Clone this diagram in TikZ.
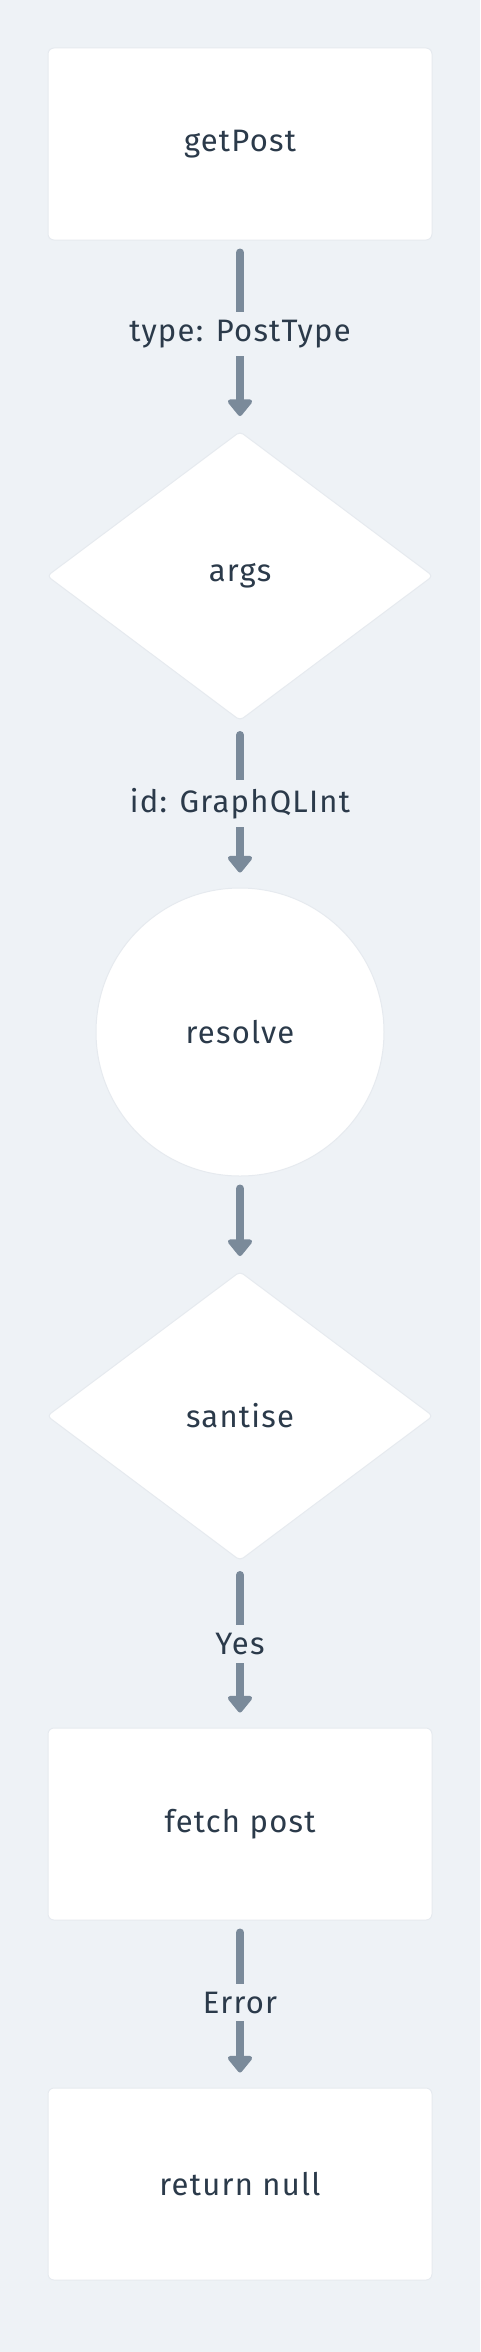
\documentclass[tikz,border=0pt]{standalone}
\usepackage{fontspec}
\setmainfont{Fira Sans}[LetterSpace=4]
\usetikzlibrary{shapes.geometric,arrows.meta}
\definecolor{bgc}{HTML}{EEF2F6}
\definecolor{edgec}{HTML}{E6EAEF}
\definecolor{arrc}{HTML}{7A8A9A}
\definecolor{txtc}{HTML}{2B3A4A}
\tikzset{
  shapebase/.style={fill=white, draw=edgec, line width=1pt, text=txtc, font=\fontsize{31}{36}\selectfont},
  boxnode/.style={shapebase, rectangle, rounded corners=6pt, minimum width=384pt, minimum height=192pt},
  decnode/.style={shapebase, diamond, minimum width=386pt, minimum height=289pt, inner sep=0pt, rounded corners=4pt},
  roundnode/.style={shapebase, circle, minimum size=288pt, inner sep=0pt},
  arr/.style={draw=arrc, line width=8pt, line cap=round, -{Triangle[width=28pt,length=18pt,round]}},
  lbl/.style={fill=bgc, text=txtc, font=\fontsize{31}{36}\selectfont, inner xsep=2pt, inner ysep=8pt}
}
\begin{document}
\begin{tikzpicture}[x=1pt,y=1pt]
\fill[bgc] (0,0) rectangle (480,-2352);
\useasboundingbox (0,0) rectangle (480,-2352);
\node[boxnode] (get) at (240,-144) {getPost};
\node[decnode] (args) at (240,-576) {args};
\node[roundnode] (res) at (240,-1032) {resolve};
\node[decnode] (san) at (240,-1416) {santise};
\node[boxnode] (fetch) at (240,-1824) {fetch post};
\node[boxnode] (ret) at (240,-2184) {return null};
\draw[arr] ([yshift=-12pt]get.south) -- node[lbl] {type: PostType} ([yshift=15pt]args.north);
\draw[arr] ([yshift=-14pt]args.south) -- node[lbl] {id: GraphQLInt} ([yshift=15pt]res.north);
\draw[arr] ([yshift=-12pt]res.south) -- ([yshift=15pt]san.north);
\draw[arr] ([yshift=-14pt]san.south) -- node[lbl] {Yes} ([yshift=15pt]fetch.north);
\draw[arr] ([yshift=-12pt]fetch.south) -- node[lbl] {Error} ([yshift=15pt]ret.north);
\end{tikzpicture}
\end{document}
